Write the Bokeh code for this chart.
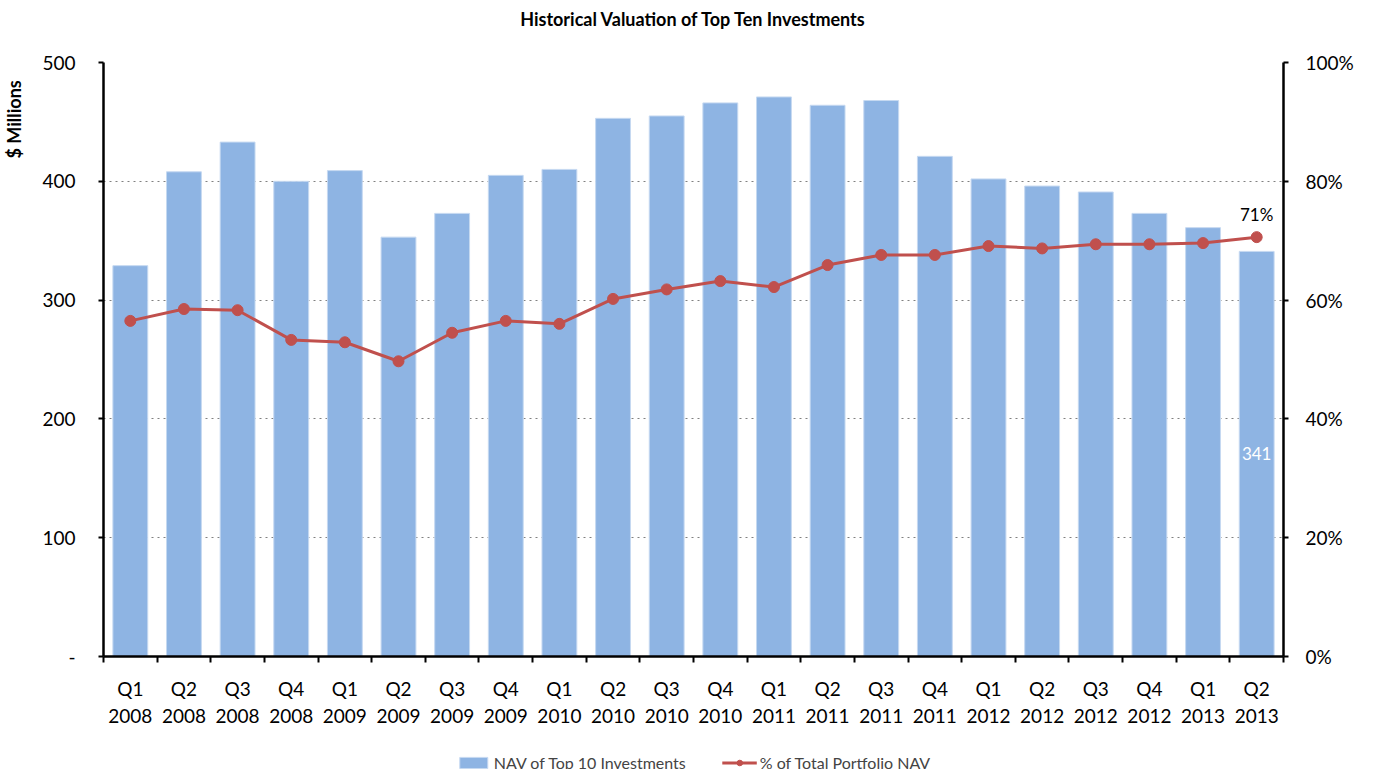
from bokeh.plotting import figure
from bokeh.layouts import column
from bokeh.models import (Range1d, LinearAxis, FixedTicker, NumeralTickFormatter,
                          Legend, LegendItem, ColumnDataSource, Title, LabelSet)
from bokeh.embed import file_html
from bokeh.resources import INLINE
from bokeh.core.properties import value

# ---- data ----
quarters = ["Q1", "Q2", "Q3", "Q4", "Q1", "Q2", "Q3", "Q4", "Q1", "Q2", "Q3",
            "Q4", "Q1", "Q2", "Q3", "Q4", "Q1", "Q2", "Q3", "Q4", "Q1", "Q2"]
years = ["2008", "2008", "2008", "2008", "2009", "2009", "2009", "2009", "2010", "2010", "2010",
         "2010", "2011", "2011", "2011", "2011", "2012", "2012", "2012", "2012", "2013", "2013"]
nav_top10 = [329, 408, 433, 400, 409, 353, 373, 405, 410, 453, 455,
             466, 471, 464, 468, 421, 402, 396, 391, 373, 361, 341]
pct_total = [0.565, 0.585, 0.583, 0.533, 0.529, 0.497, 0.545, 0.565, 0.560, 0.602, 0.618,
             0.632, 0.622, 0.659, 0.676, 0.676, 0.691, 0.687, 0.694, 0.694, 0.696, 0.706]
left_ticks = [0, 100, 200, 300, 400, 500]
right_ticks = [0, 0.2, 0.4, 0.6, 0.8, 1.0]

FONT = "Lato"
BAR = "#8EB4E3"
RED = "#C0504D"

idx = list(range(len(quarters)))
src = ColumnDataSource(dict(x=idx, nav=nav_top10, pct=pct_total))

p = figure(frame_width=1180, frame_height=594, output_backend="svg", toolbar_location=None,
           x_range=Range1d(-0.5, len(idx) - 0.5), y_range=Range1d(0, 500),
           min_border_left=103, min_border_right=82, min_border_top=62, min_border_bottom=60)
p.extra_y_ranges = {"pct": Range1d(0, 1)}
p.outline_line_color = None
p.background_fill_color = "white"

p.title.text = "Historical Valuation of Top Ten Investments"
p.title.align = "center"
p.title.vertical_align = "top"
p.title.text_font = FONT
p.title.text_font_size = "18px"
p.title.text_font_style = "bold"
p.title.text_color = "black"
p.title.standoff = 14
# spacer between the main title and the plot frame
p.add_layout(Title(text=" ", text_font_size="18px", standoff=2), "above")

bars = p.vbar(x="x", top="nav", width=0.65, source=src, fill_color=BAR,
              line_color="#C6D9F1", line_width=1)
line = p.line(x="x", y="pct", source=src, y_range_name="pct", line_color=RED, line_width=3)
dots = p.scatter(x="x", y="pct", source=src, y_range_name="pct", size=11,
                 fill_color=RED, line_color=RED)

# data labels for last point
last = ColumnDataSource(dict(x=[idx[-1]], pct=[pct_total[-1]], nav=[nav_top10[-1] / 2],
                             ptxt=[f"{round(pct_total[-1] * 100)}%"], ntxt=[str(nav_top10[-1])]))
p.add_layout(LabelSet(x="x", y="pct", text="ptxt", source=last, y_range_name="pct",
                      text_align="center", text_baseline="bottom", y_offset=12,
                      text_font=value(FONT), text_font_size="17px", text_color="black"))
p.add_layout(LabelSet(x="x", y="nav", text="ntxt", source=last,
                      text_align="center", text_baseline="middle",
                      text_font=value(FONT), text_font_size="17px", text_color="white"))

# x axis
xa = p.xaxis[0]
xa.ticker = FixedTicker(ticks=idx, minor_ticks=[i - 0.5 for i in range(len(idx) + 1)])
xa.major_label_overrides = {i: f"{q}\n{y}" for i, (q, y) in enumerate(zip(quarters, years))}
xa.major_tick_out = 0
xa.major_tick_in = 0
xa.minor_tick_out = 6
xa.minor_tick_in = 0
xa.minor_tick_line_color = "black"
xa.minor_tick_line_width = 2
xa.axis_line_color = "black"
xa.axis_line_width = 2.5
xa.major_label_text_font = FONT
xa.major_label_text_font_size = "19px"
xa.major_label_text_color = "black"
xa.major_label_standoff = 14

# left axis
ya = p.yaxis[0]
ya.ticker = FixedTicker(ticks=left_ticks, minor_ticks=[])
ya.major_label_overrides = {0: "-"}
ya.axis_line_color = "black"
ya.axis_line_width = 2.5
ya.major_tick_out = 5
ya.major_tick_in = 0
ya.major_tick_line_width = 2
ya.minor_tick_out = 0
ya.minor_tick_in = 0
ya.major_label_text_font = FONT
ya.major_label_text_font_size = "19px"
ya.major_label_text_color = "black"
ya.major_label_standoff = 23
ya.axis_label = "$ Millions" + "\u00a0" * 26
ya.axis_label_align = "end"
ya.axis_label_standoff = 14
ya.axis_label_text_font = FONT
ya.axis_label_text_font_size = "18px"
ya.axis_label_text_font_style = "bold"
ya.axis_label_text_color = "black"

# right axis
ra = LinearAxis(y_range_name="pct", ticker=FixedTicker(ticks=right_ticks, minor_ticks=[]),
                formatter=NumeralTickFormatter(format="0%"))
ra.axis_line_color = "black"
ra.axis_line_width = 2.5
ra.major_tick_out = 5
ra.major_tick_in = 0
ra.major_tick_line_width = 2
ra.major_label_text_font = FONT
ra.major_label_text_font_size = "19px"
ra.major_label_text_color = "black"
ra.major_label_standoff = 17
p.add_layout(ra, "right")

# grid
p.xgrid.visible = False
p.ygrid.ticker = FixedTicker(ticks=left_ticks[1:])
p.ygrid.grid_line_color = "#808080"
p.ygrid.grid_line_dash = "dotted"
p.ygrid.grid_line_width = 1

# ---- legend strip below the chart ----
p2 = figure(width=1365, height=64, output_backend="svg", toolbar_location=None,
            x_axis_type=None, y_axis_type=None,
            x_range=Range1d(1000, 1001), y_range=Range1d(1000, 1001), min_border=0)
p2.outline_line_color = None
p2.xgrid.visible = False
p2.ygrid.visible = False
lbars = p2.vbar(x="x", top="nav", width=0.65, source=src, fill_color=BAR,
                line_color="#C6D9F1", line_width=1)
lline = p2.line(x="x", y="pct", source=src, line_color=RED, line_width=3)
ldots = p2.scatter(x="x", y="pct", source=src, size=11, fill_color=RED, line_color=RED)

legend = Legend(items=[LegendItem(label="NAV of Top 10 Investments", renderers=[lbars]),
                       LegendItem(label="% of Total Portfolio NAV", renderers=[lline, ldots])],
                orientation="horizontal", location="center", border_line_color=None,
                background_fill_alpha=0,
                label_text_font=FONT, label_text_font_size="16px", glyph_width=35,
                glyph_height=14, spacing=36, label_standoff=3, margin=0, padding=2)
p2.add_layout(legend, "center")

layout = column(p, p2)
open("out.html", "w").write(file_html(layout, INLINE))
